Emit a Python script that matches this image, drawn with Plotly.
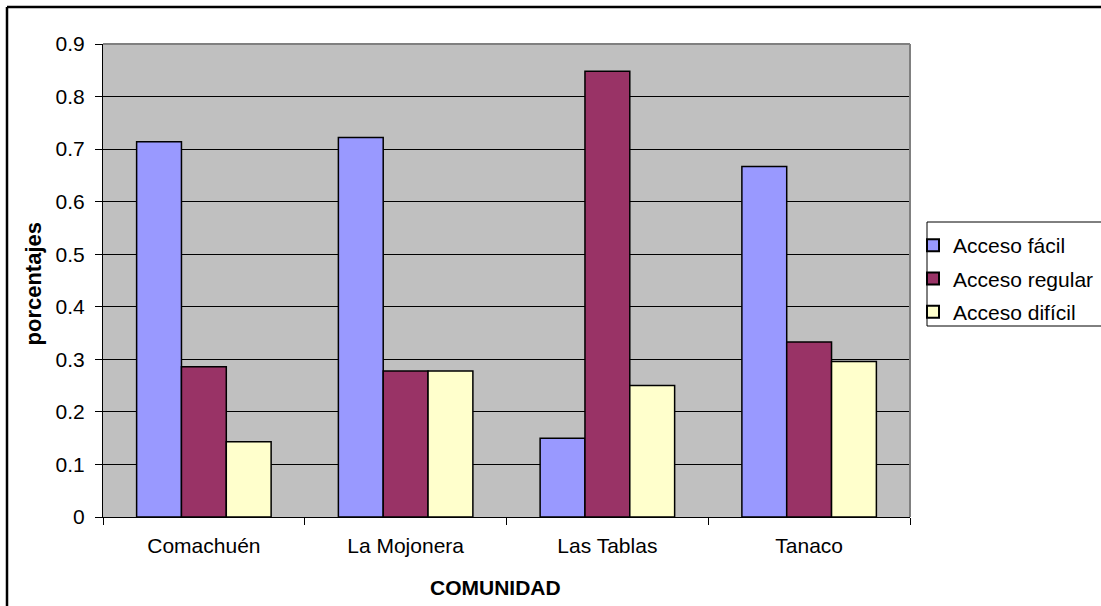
import plotly.graph_objects as go

# Access level shares per community
comunidades = ["Comachuén", "La Mojonera", "Las Tablas", "Tanaco"]
acceso_facil = [0.714, 0.722, 0.150, 0.667]
acceso_regular = [0.286, 0.278, 0.848, 0.333]
acceso_dificil = [0.143, 0.278, 0.250, 0.296]

series_names = ["Acceso fácil", "Acceso regular", "Acceso difícil"]
series_colors = ["#9999FF", "#993366", "#FFFFCC"]

y_ticks = [0, 0.1, 0.2, 0.3, 0.4, 0.5, 0.6, 0.7, 0.8, 0.9]
y_tick_labels = ["0", "0.1", "0.2", "0.3", "0.4", "0.5", "0.6", "0.7", "0.8", "0.9"]

W, H = 1101, 606
L, R, T, B = 103, 191, 44, 89
PW, PH = W - L - R, H - T - B

FONT = "Liberation Sans, Arial, sans-serif"

fig = go.Figure()
for name, vals, color in zip(series_names, [acceso_facil, acceso_regular, acceso_dificil], series_colors):
    fig.add_trace(go.Bar(
        x=comunidades, y=vals, name=name, legendgroup=name,
        marker=dict(color=color, line=dict(color="#000000", width=1.5)),
    ))


def px_x(px):
    return (px - L) / PW


def px_y(py):
    return (H - B - py) / PH


shapes = [
    # plot-area frame (top and right edges)
    dict(type="line", xref="paper", yref="paper", x0=0, x1=1, y0=1, y1=1,
         line=dict(color="#808080", width=2)),
    dict(type="line", xref="paper", yref="paper", x0=1, x1=1, y0=0, y1=1,
         line=dict(color="#808080", width=2)),
    # chart-area border
    dict(type="line", xref="paper", yref="paper", x0=px_x(7), x1=px_x(1200),
         y0=px_y(7), y1=px_y(7), line=dict(color="#000000", width=2.5)),
    dict(type="line", xref="paper", yref="paper", x0=px_x(7), x1=px_x(7),
         y0=px_y(7), y1=px_y(700), line=dict(color="#000000", width=2.5)),
    # legend frame
    dict(type="rect", xref="paper", yref="paper", x0=px_x(927), x1=px_x(1110),
         y0=px_y(326), y1=px_y(222), fillcolor="#FFFFFF",
         line=dict(color="#000000", width=1), layer="above"),
]

annotations = [
    dict(text="<b>COMUNIDAD</b>", xref="paper", yref="paper",
         x=px_x(495), y=px_y(587), showarrow=False,
         font=dict(family=FONT, size=21, color="#000000"),
         xanchor="center", yanchor="middle"),
    dict(text="<b>porcentajes</b>", xref="paper", yref="paper",
         x=px_x(32.5), y=px_y(284), showarrow=False, textangle=-90,
         font=dict(family=FONT, size=22, color="#000000"),
         xanchor="center", yanchor="middle"),
]

fig.update_layout(
    width=W, height=H,
    margin=dict(l=L, r=R, t=T, b=B, autoexpand=False),
    paper_bgcolor="#FFFFFF",
    plot_bgcolor="#C0C0C0",
    barmode="group",
    bargap=1 / 3,
    bargroupgap=0,
    font=dict(family=FONT, size=21, color="#000000"),
    showlegend=True,
    legend=dict(
        x=px_x(913), y=px_y(225), xanchor="left", yanchor="top",
        bgcolor="rgba(0,0,0,0)", borderwidth=0,
        font=dict(family=FONT, size=21, color="#000000"),
        tracegroupgap=3,
        traceorder="grouped",
        itemsizing="constant",
    ),
    xaxis=dict(
        type="category",
        showgrid=False,
        showline=True, linecolor="#000000", linewidth=1,
        ticks="outside", ticklen=7, tickcolor="#000000", tickwidth=1,
        tickson="boundaries",
        ticklabelstandoff=10,
        tickfont=dict(family=FONT, size=21),
        range=[-0.5, 3.5],
    ),
    yaxis=dict(
        range=[0, 0.9],
        tickvals=y_ticks, ticktext=y_tick_labels,
        showgrid=True, gridcolor="#000000", gridwidth=1,
        zeroline=False,
        showline=True, linecolor="#000000", linewidth=1,
        ticks="outside", ticklen=7, tickcolor="#000000", tickwidth=1,
        ticklabelstandoff=6,
        tickfont=dict(family=FONT, size=21),
    ),
    shapes=shapes,
    annotations=annotations,
)

fig.write_html("out.html")
